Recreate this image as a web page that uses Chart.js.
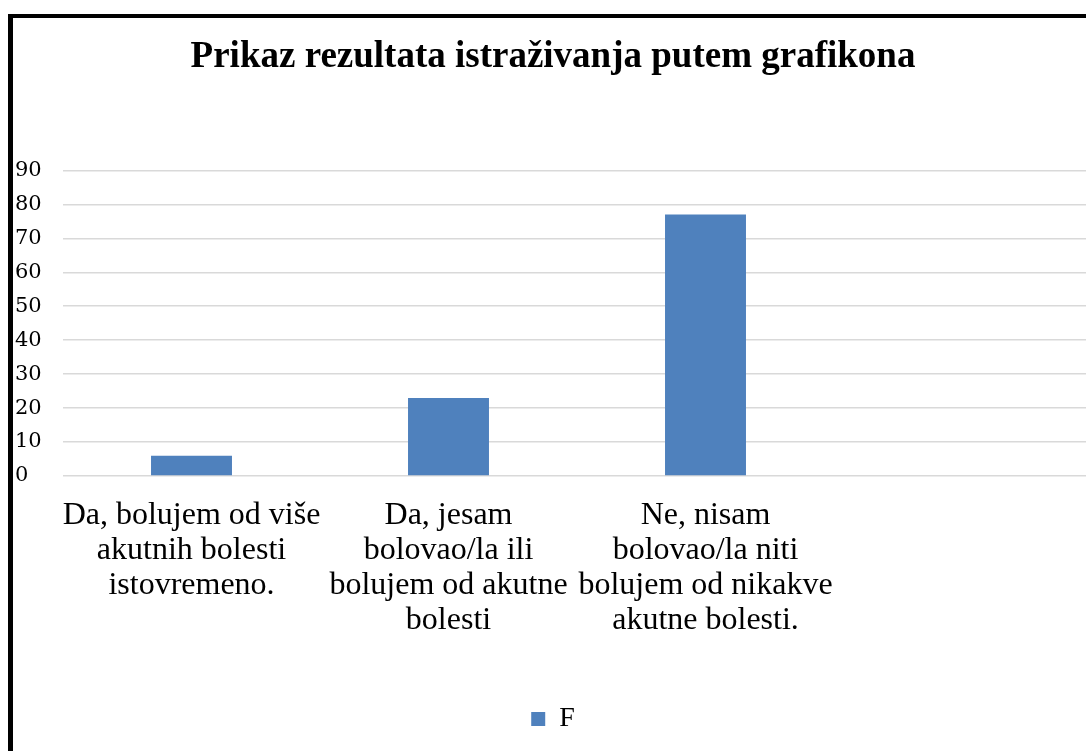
<!DOCTYPE html>
<html lang="hr">
<head>
  <meta charset="UTF-8" />
  <title>Prikaz rezultata istraživanja putem grafikona</title>
  <script src="https://cdn.jsdelivr.net/npm/chart.js"></script>
  <style>
    html, body {
      margin: 0;
      padding: 0;
      background: #ffffff;
      overflow: hidden;
      width: 1086px;
      height: 751px;
    }
    #frame {
      position: absolute;
      left: 8px;
      top: 14px;
      border-left: 5px solid #000;
      border-top: 4px solid #000;
      width: 1082px;
      height: 733px;
    }
  </style>
</head>
<body>
  <div id="frame">
    <canvas id="chart" width="1082" height="733"></canvas>
  </div>
  <script>
    const categories = [
      ['Da, bolujem od više', 'akutnih bolesti', 'istovremeno.'],
      ['Da, jesam', 'bolovao/la ili', 'bolujem od akutne', 'bolesti'],
      ['Ne, nisam', 'bolovao/la niti', 'bolujem od nikakve', 'akutne bolesti.'],
      ''
    ];
    const seriesF = [6, 23, 77, null];
    const yTicks = [0, 10, 20, 30, 40, 50, 60, 70, 80, 90];

    const serif = '"Liberation Serif", "Times New Roman", serif';

    new Chart(document.getElementById('chart'), {
      type: 'bar',
      data: {
        labels: categories,
        datasets: [{
          label: 'F',
          data: seriesF,
          backgroundColor: '#4f81bd',
          borderWidth: 0,
          categoryPercentage: 1,
          barPercentage: 0.315
        }]
      },
      options: {
        responsive: false,
        animation: false,
        layout: { padding: { left: 2, right: 4, top: 0, bottom: 8 } },
        plugins: {
          title: {
            display: true,
            text: 'Prikaz rezultata istraživanja putem grafikona',
            color: '#000',
            font: { family: serif, size: 37, weight: 'bold', lineHeight: 1.2 },
            padding: { top: 17, bottom: 91 }
          },
          legend: {
            position: 'bottom',
            labels: {
              color: '#000',
              font: { family: serif, size: 28 },
              boxWidth: 14,
              boxHeight: 14,
              padding: 10
            }
          },
          tooltip: { enabled: false }
        },
        scales: {
          x: {
            grid: { display: false },
            border: { display: false },
            ticks: {
              color: '#000',
              font: { family: serif, size: 32, lineHeight: 1.094 },
              maxRotation: 0,
              autoSkip: false,
              padding: 14
            },
            afterFit: s => { s.height = 219; }
          },
          y: {
            min: 0,
            max: 90,
            afterBuildTicks: s => { s.ticks = yTicks.map(v => ({ value: v })); },
            grid: { color: '#d9d9d9', lineWidth: 1.5, drawTicks: false },
            border: { display: false },
            ticks: {
              color: '#000',
              crossAlign: 'far',
              font: { family: '"DejaVu Serif", serif', size: 21 },
              padding: 0
            },
            afterFit: s => { s.width = 48; }
          }
        }
      }
    });
  </script>
</body>
</html>
